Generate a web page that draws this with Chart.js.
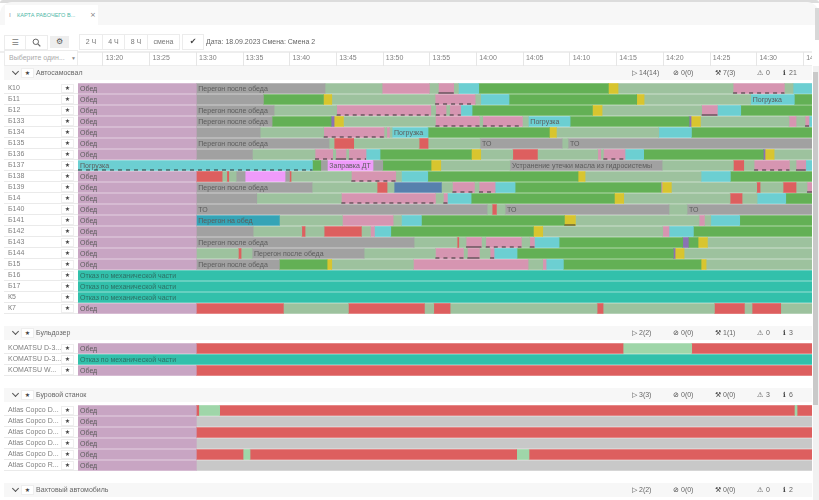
<!DOCTYPE html>
<html>
<head>
<meta charset="utf-8">
<script src="https://cdn.jsdelivr.net/npm/chart.js@4"></script>
<style>
  html, body { margin: 0; padding: 0; background: #fff; overflow: hidden; }
  #page { position: relative; width: 819px; height: 500px; overflow: hidden; filter: blur(0.55px);
    font-family: "Liberation Sans", Arial, sans-serif; font-size: 7px; color: #666; }
  #page div, #page span, #page canvas { position: absolute; }
  .frame { left: 0; top: 0; width: 819px; height: 3px; background: #dcdcdc; border-radius: 12px 12px 0 0; }
  .strip { left: 0; top: 2px; width: 819px; height: 23px; background: #f7f7f7; border-radius: 12px 12px 0 0; }
  .tab { left: 5px; top: 5px; width: 93px; height: 20px; background: #fff; }
  .box { background: #fff; border: 1px solid #ececec; box-sizing: border-box; text-align: center; line-height: 14px; color: #777; }
  .head { left: 4px; width: 808px; height: 14px; background: #f7f7f7; line-height: 14px; }
  .head .star { left: 17px; top: 2px; width: 13px; height: 10px; background: #fff; border: 1px solid #eee; box-sizing: border-box;
    font: 6px/8px "DejaVu Sans"; text-align: center; color: #444; }
  .head .chev { left: 9px; top: 2.5px; width: 4px; height: 4px; border-right: 1.4px solid #555; border-bottom: 1.4px solid #555; transform: rotate(45deg); }
  .head .ttl { left: 32px; top: 0; font-size: 7px; white-space: nowrap; }
  .head .st { top: 0; white-space: nowrap; }
  .head .ic { top: 0; font: 7px/14px "DejaVu Sans"; color: #444; }
</style>
</head>
<body>
<div id="page">
  <div class="frame"></div>
  <div class="strip"></div>
  <div class="tab"></div>
  <div style="left:9px;top:11px;font:6px/8px 'DejaVu Sans';color:#777">⁞</div>
  <div style="left:17px;top:12px;font-size:5.6px;line-height:7px;color:#4fb8a8;white-space:nowrap">КАРТА РАБОЧЕГО В...</div>
  <div style="left:90px;top:11px;font:7px/8px 'DejaVu Sans';color:#777">×</div>

  <div class="box" style="left:4px;top:35px;width:22px;height:15px;font:8px/13px 'DejaVu Sans'">☰</div>
  <div class="box" style="left:25px;top:35px;width:23px;height:15px">
    <svg width="9" height="9" viewBox="0 0 9 9" style="margin-top:2px"><circle cx="3.8" cy="3.8" r="2.7" fill="none" stroke="#666" stroke-width="1"/><line x1="5.8" y1="5.8" x2="8.3" y2="8.3" stroke="#666" stroke-width="1.2"/></svg>
  </div>
  <div style="left:50px;top:36px;width:19px;height:12px;background:#eee;text-align:center;font:8px/12px 'DejaVu Sans';color:#555">⚙</div>
  <div class="box" style="left:79px;top:34px;width:24px;height:16px">2 Ч</div>
  <div class="box" style="left:102px;top:34px;width:23px;height:16px">4 Ч</div>
  <div class="box" style="left:124px;top:34px;width:24px;height:16px">8 Ч</div>
  <div class="box" style="left:147px;top:34px;width:33px;height:16px">смена</div>
  <div class="box" style="left:182px;top:34px;width:22px;height:16px;font:8px/14px 'DejaVu Sans';color:#444">✔</div>
  <div style="left:206px;top:37px;white-space:nowrap;line-height:9px">Дата: 18.09.2023 Смена: Смена 2</div>

  <div style="left:0;top:51px;width:812px;height:1.5px;background:#eee"></div>
  <div style="left:4px;top:65px;width:808px;height:1px;background:#eee"></div>
  <canvas id="timeAxis" width="812" height="14" style="left:0;top:52px"></canvas>
  <div class="box" style="left:4px;top:50px;width:74px;height:16px;text-align:left;padding-left:4px;color:#aaa;white-space:nowrap">Выберите один...<span style="left:66px;top:0;font-size:5px;color:#888">▼</span></div>

  <div id="heads"></div>
  <canvas id="chartDump" width="819" height="231" style="left:0;top:83px"></canvas>
  <canvas id="chartDozer" width="819" height="33" style="left:0;top:343px"></canvas>
  <canvas id="chartDrill" width="819" height="66" style="left:0;top:405px"></canvas>

  <div style="left:813px;top:66px;width:6px;height:434px;background:#f1f1f1"></div>
  <div style="left:813px;top:72px;width:5px;height:333px;background:#c9c9c9"></div>
  <div style="left:815px;top:8px;width:4px;height:32px;background:#d8d8d8"></div>
</div>

<script>
// time values are minutes after 13:00
const timeMin = 17.33;
const timeMax = 95.92;
const tickMinutes = [20, 25, 30, 35, 40, 45, 50, 55, 60, 65, 70, 75, 80, 85, 90, 95];

const stateColors = {
  lun: "#c8a5c3", gry: "#a1a1a1", lgr: "#9dc29e", grn: "#63b055", pnk: "#d695b1", yel: "#d8c52f",
  cyn: "#6ccfd2", red: "#dd5f5f", teal: "#32c0ab", fuc: "#ef9bfa", blu: "#5780ad", tel2: "#35a4b6",
  pur: "#8a72b4", lgy: "#c8c8c8", bgr: "#9fd6a9",
};

const dumpNames = ["К10", "Б11", "Б12", "Б133", "Б134", "Б135", "Б136", "Б137", "Б138", "Б139", "Б14", "Б140", "Б141", "Б142", "Б143", "Б144", "Б15", "Б16", "Б17", "К5", "К7"];
const dozerNames = ["KOMATSU D-3...", "KOMATSU D-3...", "KOMATSU W..."];
const drillNames = ["Atlas Copco D...", "Atlas Copco D...", "Atlas Copco D...", "Atlas Copco D...", "Atlas Copco D...", "Atlas Copco R..."];

const OBED = "Обед";
const PEREGON = "Перегон после обеда";
const OTKAZ = "Отказ по механической части";

// each row: [state, end time, caption, underline] - a segment starts where the last one ended
const k10 = [["lun",30,OBED],["gry",43.78,PEREGON],["lgr",49.89],["pnk",54.95],["lgr",55.92],["pnk",57.56,"","s"],["lgr",58.06],["cyn",60.24],["grn",74.12],["yel",75.15],["lgr",87.47],["pnk",92.96,"","d"],["lgr",93.89],["cyn",95.92]];
const b11 = [["lun",30,OBED],["gry",37.18],["grn",43.61],["yel",44.5],["lgr",55.56],["pnk",59.85,"","d"],["lgr",60.45],["cyn",63.48],["grn",77.15],["yel",77.94],["lgr",89.36],["cyn",94.03,"Погрузка"],["grn",95.92]];
const b12 = [["lun",30,OBED],["gry",38.32,PEREGON],["lgr",45.03],["pnk",55.1,"","d"],["lgr",55.63],["pnk",56.74,"","d"],["lgr",57.13],["pnk",58.31,"","d"],["cyn",59.52],["grn",72.41],["yel",73.44],["lgr",84.11],["pnk",85.79,"","s"],["cyn",88.29],["grn",95.92]];
const b133 = [["lun",30,OBED],["gry",38.11,PEREGON],["grn",44.43],["pur",44.75],["yel",45.75],["lgr",55.6],["pnk",60.31,"","d"],["lgr",60.67],["pnk",64.91,"","d"],["lgr",65.55],["cyn",70.02,"Погрузка"],["grn",82.76],["pur",82.97],["yel",83.97],["lgr",93.46],["pnk",94.21],["lgr",95.18],["pnk",95.6,"","s"],["cyn",95.92]];
const b134 = [["lun",30,OBED],["gry",36.83],["lgr",43.64],["pnk",50.1,"","d"],["lgr",50.39],["pnk",50.67],["lgr",50.96],["cyn",54.81,"Погрузка"],["grn",67.8],["yel",68.55],["lgr",79.51],["cyn",83.01],["grn",95.92]];
const b135 = [["lun",30,OBED],["gry",44.21,PEREGON],["lgr",44.75],["red",46.85],["lgr",53.85],["red",54.81],["lgr",60.38],["gry",69.16,"ТО"],["lgr",69.8],["gry",95.92,"ТО"]];
const b136 = [["lun",30,OBED],["gry",36],["lgr",42.71],["pnk",44.6,"","d"],["lgr",44.93],["pnk",46.03,"","s"],["lgr",46.32],["pnk",48.17,"","d"],["cyn",49.67],["grn",59.45],["yel",60.45],["lgr",63.88],["red",66.52],["lgr",72.98],["pnk",73.3],["lgr",73.58],["pnk",75.9,"","d"],["cyn",77.9],["grn",90.71],["pur",90.89],["yel",91.86],["lgr",95.92]];
const b137 = [["cyn",42.43,"Погрузка","d"],["grn",43.32],["gry",44.03],["fuc",48.92,"Заправка ДТ"],["gry",49.96],["grn",55.13],["yel",56.17],["lgr",63.59],["gry",79.87,"Устранение утечки масла из гидросистемы"],["lgr",87.5],["red",88.61],["lgr",89.72],["pnk",93.5,"","d"],["lgr",94.21],["pnk",95.25,"","s"],["cyn",95.92]];
const b138 = [["lun",30,OBED],["red",32.76],["lgr",33.26],["red",33.47],["lgr",34.26],["gry",35.22],["fuc",39.5],["gry",39.97],["red",40.14],["lgr",46.6],["pnk",51.35,"","d"],["lgr",51.96],["cyn",54.78],["grn",70.87],["yel",71.62],["lgr",84.04],["cyn",87.18],["grn",95.92]];
const b139 = [["lun",30,OBED],["gry",42.39,PEREGON],["lgr",49.35],["red",50.42],["lgr",51.17],["blu",56.24],["lgr",57.42],["pnk",59.77,"","d"],["lgr",60.27],["pnk",61.99,"","d"],["cyn",64.13],["grn",79.76],["pnk",79.87],["yel",80.86],["lgr",90],["red",90.36],["lgr",92.82],["red",94.21],["lgr",95.39],["pnk",95.92,"","s"]];
const b14 = [["lun",30,OBED],["gry",36.47],["lgr",45.53],["pnk",55.6,"","d"],["lgr",56.45],["pnk",56.88,"","s"],["cyn",59.42],["grn",74.76],["yel",75.76],["lgr",87.15],["red",88.43],["lgr",90.04],["cyn",93.11],["grn",95.92]];
const b140 = [["lun",30,OBED],["gry",61.13,"ТО"],["lgr",61.67],["red",62.13],["lgr",63.06],["gry",80.61,"ТО"],["lgr",82.54],["gry",95.92,"ТО"]];
const b141 = [["lun",30,OBED],["tel2",38.89,"Перегон на обед"],["lgr",45.64],["pnk",51.07],["lgr",51.96],["cyn",54.1],["grn",69.41],["yel",70.59,"","s"],["lgr",83.83],["pnk",84.4],["lgr",85.08],["cyn",88.18],["grn",95.92]];
const b142 = [["lun",30,OBED],["gry",36.08],["lgr",41.29],["red",41.64],["lgr",43.68],["red",47.67],["lgr",48.64],["pnk",49.07],["cyn",50.82],["grn",66.09],["yel",67.09],["lgr",79.94],["pnk",80.61],["cyn",83.22],["grn",95.92]];
const b143 = [["lun",30,OBED],["gry",53.31,PEREGON],["lgr",57.92],["red",58.1],["lgr",58.88],["pnk",60.52,"","s"],["lgr",60.99],["pnk",64.8,"","d"],["lgr",65.7],["pnk",66.2,"","s"],["cyn",68.84],["grn",82.08],["pur",82.68],["grn",83.72],["yel",84.72],["lgr",95.92]];
const b144 = [["lun",30,OBED],["lgr",34.5],["red",34.79],["lgr",35.97],["gry",47.96,PEREGON],["lgr",55.6],["pnk",58.6,"","d"],["lgr",59.02],["pnk",60.31,"","s"],["lgr",61.45],["pnk",61.88,"","s"],["cyn",64.34],["grn",81.08],["pur",81.26],["yel",82.22],["lgr",95.92]];
const b15 = [["lun",30,OBED],["gry",38.89,PEREGON],["grn",44],["yel",44.5],["lgr",53.24],["pnk",65.52],["lgr",67.09],["pnk",67.45],["cyn",69.3],["grn",84.04],["yel",84.58],["lgr",95.92]];
const b16 = [["teal",95.92,OTKAZ]];
const b17 = [["teal",95.92,OTKAZ]];
const k5 = [["teal",95.92,OTKAZ]];
const k7 = [["lun",30,OBED],["red",39.32],["lgr",46.28],["red",54.42],["lgr",55.42],["red",57.17],["lgr",72.91],["red",73.55],["lgr",85.47],["red",88.68],["lgr",89.5],["red",92.57],["lgr",95.92]];

const dozer1 = [["lun",30,OBED],["red",75.69],["bgr",83.04],["red",95.92]];
const dozer2 = [["teal",95.92,OTKAZ]];
const dozer3 = [["lun",30,OBED],["red",95.92]];

const drill1 = [["lun",30,OBED],["red",30.26],["bgr",32.5],["red",94.03],["bgr",94.32],["red",95.92]];
const drill2 = [["lun",30,OBED],["lgy",95.92]];
const drill3 = [["lun",30,OBED],["red",95.92]];
const drill4 = [["lun",30,OBED],["lgy",95.92]];
const drill5 = [["lun",30,OBED],["red",35],["bgr",35.75],["red",64.3],["bgr",65.62],["red",95.92]];
const drill6 = [["lun",30,OBED],["lgy",95.92]];

const headers = [
  { top: 66, title: "Автосамосвал", stats: ["14(14)", "0(0)", "7(3)", "0", "21"] },
  { top: 326, title: "Бульдозер", stats: ["2(2)", "0(0)", "1(1)", "0", "3"] },
  { top: 388, title: "Буровой станок", stats: ["3(3)", "0(0)", "0(0)", "3", "6"] },
  { top: 483, title: "Вахтовый автомобиль", stats: ["2(2)", "0(0)", "0(0)", "0", "2"] },
];

const statIcons = ["▷", "⊘", "⚒", "⚠", "ℹ"];
const iconX = [628, 669, 711, 753, 779];
const statX = [635, 677, 719, 762, 785];

const heads = document.getElementById("heads");
headers.forEach((h) => {
  let html = '<div class="chev"></div><div class="star">★</div><div class="ttl">' + h.title + "</div>";
  h.stats.forEach((s, i) => {
    html += '<div class="ic" style="left:' + iconX[i] + 'px">' + statIcons[i] + "</div>";
    html += '<div class="st" style="left:' + statX[i] + 'px">' + s + "</div>";
  });
  const d = document.createElement("div");
  d.className = "head";
  d.style.top = h.top + "px";
  d.innerHTML = html;
  heads.appendChild(d);
});

const fontName = '"Liberation Sans", Arial, sans-serif';

const rowPlugin = {
  id: "rowPlugin",
  afterDatasetsDraw(chart, args, opts) {
    const { ctx, scales, chartArea } = chart;
    ctx.save();
    opts.rows.forEach((row, r) => {
      const yc = scales.y.getPixelForValue(r);

      // separator and star button in the name column
      ctx.strokeStyle = "#eaeaea";
      ctx.lineWidth = 1;
      ctx.beginPath();
      ctx.moveTo(4, Math.floor(yc + 5) + 0.5);
      ctx.lineTo(chartArea.left, Math.floor(yc + 5) + 0.5);
      ctx.stroke();
      ctx.fillStyle = "#fff";
      ctx.fillRect(61.5, yc - 4, 12, 8);
      ctx.strokeStyle = "#eee";
      ctx.strokeRect(61.5, yc - 4, 12, 8);
      ctx.fillStyle = "#444";
      ctx.font = '6px "DejaVu Sans"';
      ctx.textAlign = "center";
      ctx.textBaseline = "middle";
      ctx.fillText("★", 67.5, yc);

      let start = timeMin;
      row.forEach(([state, end, caption, mark]) => {
        const x0 = scales.x.getPixelForValue(start);
        const x1 = scales.x.getPixelForValue(end);
        if (caption) {
          ctx.fillStyle = state === "teal" ? "#2c6f64" : "#5c5c5c";
          ctx.font = "7px " + fontName;
          ctx.textAlign = "left";
          ctx.fillText(caption, x0 + 2, yc + 0.3);
        }
        if (mark) {
          ctx.strokeStyle = "#333";
          ctx.lineWidth = 1;
          ctx.setLineDash(mark === "d" ? [4, 4] : []);
          ctx.beginPath();
          ctx.moveTo(x0, yc + 4.5);
          ctx.lineTo(x1, yc + 4.5);
          ctx.stroke();
          ctx.setLineDash([]);
        }
        start = end;
      });
    });
    ctx.restore();
  },
};

function buildGroup(id, names, rows) {
  const layers = Math.max(...rows.map((r) => r.length));
  const datasets = [];
  for (let k = 0; k < layers; k++) {
    datasets.push({
      data: rows.map((r) => (r[k] ? [k === 0 ? timeMin : r[k - 1][1], r[k][1]] : null)),
      backgroundColor: rows.map((r) => (r[k] ? stateColors[r[k][0]] : "transparent")),
      barThickness: 10,
      grouped: false,
    });
  }
  new Chart(document.getElementById(id), {
    type: "bar",
    data: { labels: names, datasets },
    plugins: [rowPlugin],
    options: {
      indexAxis: "y",
      responsive: false,
      animation: false,
      layout: { autoPadding: false, padding: { left: 8, right: 7, top: 0, bottom: 0 } },
      plugins: { legend: { display: false }, tooltip: { enabled: false }, rowPlugin: { rows } },
      scales: {
        x: { type: "linear", min: timeMin, max: timeMax, display: false },
        y: {
          type: "category",
          grid: { display: false },
          border: { display: false },
          afterFit: (s) => { s.width = 70; s.paddingTop = 0; s.paddingBottom = 0; },
          ticks: { crossAlign: "far", padding: 0, autoSkip: false, color: "#808080", font: { family: fontName, size: 7 } },
        },
      },
    },
  });
}

buildGroup("chartDump", dumpNames, [k10, b11, b12, b133, b134, b135, b136, b137, b138, b139, b14, b140, b141, b142, b143, b144, b15, b16, b17, k5, k7]);
buildGroup("chartDozer", dozerNames, [dozer1, dozer2, dozer3]);
buildGroup("chartDrill", drillNames, [drill1, drill2, drill3, drill4, drill5, drill6]);

// header row with the clock ticks
new Chart(document.getElementById("timeAxis"), {
  type: "bar",
  data: { labels: [], datasets: [] },
  options: {
    responsive: false,
    animation: false,
    layout: { autoPadding: false, padding: { left: 78, right: 0, top: 0, bottom: 0 } },
    plugins: { legend: { display: false }, tooltip: { enabled: false } },
    scales: {
      y: { display: false },
      x: {
        type: "linear",
        offset: false,
        min: timeMin,
        max: timeMax,
        afterBuildTicks: (s) => { s.ticks = tickMinutes.map((v) => ({ value: v })); },
        afterFit: (s) => { s.height = 14; s.paddingLeft = 0; s.paddingRight = 0; },
        border: { display: false },
        grid: { offset: false, drawOnChartArea: false, tickLength: 14, color: "#e6e6e6" },
        ticks: {
          autoSkip: false,
          maxRotation: 0,
          labelOffset: 11.5,
          padding: -12,
          color: "#808080",
          font: { family: fontName, size: 7 },
          callback: (v) => {
            const m = Math.round(v);
            return (m >= 60 ? "14:" + String(m - 60).padStart(2, "0") : "13:" + String(m).padStart(2, "0"));
          },
        },
      },
    },
  },
});
</script>
</body>
</html>
